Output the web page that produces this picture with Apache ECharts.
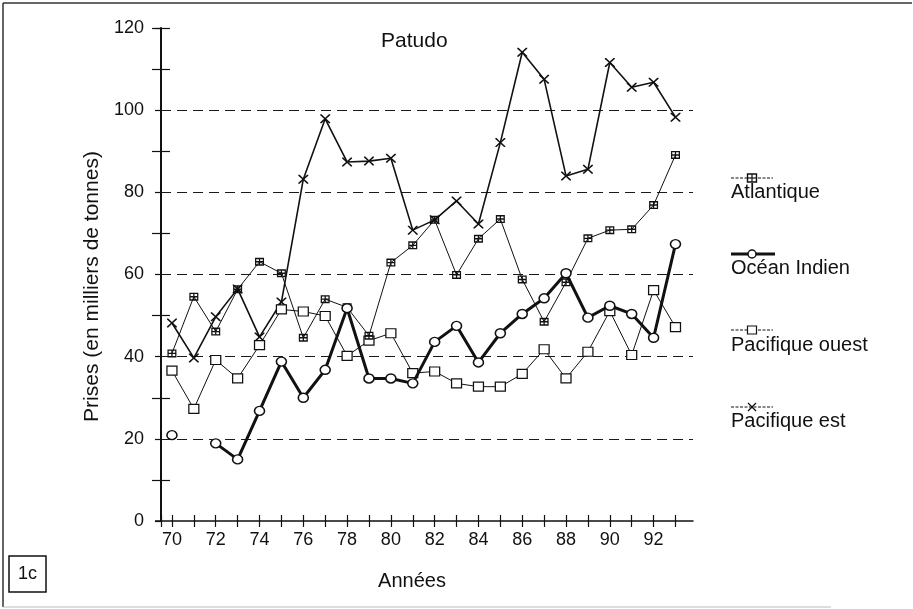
<!DOCTYPE html>
<html>
<head>
<meta charset="utf-8">
<script src="https://cdn.jsdelivr.net/npm/echarts@6/dist/echarts.min.js"></script>
<style>
  html, body { margin: 0; padding: 0; background: #fff; }
  #chart { width: 913px; height: 609px; }
</style>
</head>
<body>
<div id="chart"></div>
<script>
// Bigeye tuna (patudo) catches, thousands of tonnes, 1970-1993
const years = [70,71,72,73,74,75,76,77,78,79,80,81,82,83,84,85,86,87,88,89,90,91,92,93];
const yearLabels = [70,72,74,76,78,80,82,84,86,88,90,92];
const yTickLabels = [0,20,40,60,80,100,120];

const atlantique = [40.8,54.6,46.1,56.4,63.1,60.3,44.6,54.0,52.0,45.1,62.9,67.1,73.3,59.9,68.7,73.5,58.8,48.5,58.1,68.8,70.8,71.0,76.9,89.1];
const oceanIndien = [20.9,null,18.9,15.0,26.8,38.8,30.0,36.8,51.8,34.7,34.7,33.5,43.6,47.5,38.6,45.7,50.4,54.2,60.3,49.5,52.4,50.4,44.6,67.4];
const pacifiqueOuest = [36.6,27.3,39.2,34.7,42.8,51.5,51.0,49.9,40.2,43.9,45.7,36.0,36.4,33.5,32.7,32.7,35.8,41.8,34.7,41.2,51.1,40.4,56.2,47.2];
const pacifiqueEst = [48.2,39.7,49.7,56.5,44.8,53.3,83.2,97.9,87.4,87.6,88.3,70.8,73.3,77.9,72.3,92.1,114.1,107.5,84.0,85.6,111.6,105.6,106.8,98.3];

const seriesNames = ['Atlantique', 'Océan Indien', 'Pacifique ouest', 'Pacifique est'];

// marker shapes
const boxCross = 'path://M0 0H10V8H0Z M1.4 1.4V3.3H4.3V1.4Z M5.7 1.4V3.3H8.6V1.4Z M1.4 4.7V6.6H4.3V4.7Z M5.7 4.7V6.6H8.6V4.7Z';
const xMark = 'path://M0 0L1.3 0L5 3.9L8.7 0L10 0L10 1.1L6.1 5L10 8.9L10 10L8.7 10L5 6.1L1.3 10L0 10L0 8.9L3.9 5L0 1.1Z';

function pairs(vals) {
  return years.map((y, i) => [y, vals[i] == null ? '-' : vals[i]]);
}

const FONT = 'Liberation Sans, Arial, Helvetica, sans-serif';
const INK = '#111';

const chart = echarts.init(document.getElementById('chart'), null, { renderer: 'canvas' });

const xTicks = [69.5].concat(years);
const yOddTicks = [10,30,50,70,90,110,120];

// legend glyph helpers (graphic component)
function boxCrossGlyph(cx, cy) {
  return [
    { type: 'rect', shape: { x: cx - 4.5, y: cy - 4, width: 9, height: 8 }, style: { fill: '#fff', stroke: INK, lineWidth: 1.4 } },
    { type: 'line', shape: { x1: cx - 4.5, y1: cy, x2: cx + 4.5, y2: cy }, style: { stroke: INK, lineWidth: 1.2 } },
    { type: 'line', shape: { x1: cx, y1: cy - 4, x2: cx, y2: cy + 4 }, style: { stroke: INK, lineWidth: 1.2 } }
  ];
}
function xGlyph(cx, cy) {
  return [
    { type: 'line', shape: { x1: cx - 4, y1: cy - 4, x2: cx + 4, y2: cy + 4 }, style: { stroke: INK, lineWidth: 1.3 } },
    { type: 'line', shape: { x1: cx - 4, y1: cy + 4, x2: cx + 4, y2: cy - 4 }, style: { stroke: INK, lineWidth: 1.3 } }
  ];
}
function legendText(i, y) {
  return { type: 'text', x: 731, y: y, style: { text: seriesNames[i], font: '20px ' + FONT, fill: INK, verticalAlign: 'middle' } };
}

const legendY = [178, 254, 330, 407];

const option = {
  backgroundColor: '#fff',
  animation: false,
  title: {
    text: 'Patudo', left: 376, top: 26,
    textStyle: { fontFamily: FONT, fontSize: 21, fontWeight: 'normal', color: INK }
  },
  grid: { left: 161, right: 220, top: 28, bottom: 88, containLabel: false },
  xAxis: [
    {
      type: 'value', min: 69.5, max: 93.8, position: 'bottom',
      axisLine: { onZero: false, lineStyle: { color: INK, width: 1.5 } },
      axisTick: { length: 6, customValues: xTicks, lineStyle: { color: INK, width: 1.2 } },
      axisLabel: { customValues: yearLabels, color: INK, fontFamily: FONT, fontSize: 18, margin: 10 },
      splitLine: { show: false },
      name: 'Années', nameLocation: 'middle', nameGap: 50,
      nameTextStyle: { color: INK, fontFamily: FONT, fontSize: 20, padding: [0, 30, 0, 0] }
    },
    {
      type: 'value', min: 69.5, max: 93.8, position: 'bottom', offset: 0,
      axisLine: { show: false, onZero: false },
      axisTick: { inside: true, length: 6, customValues: xTicks, lineStyle: { color: INK, width: 1.2 } },
      axisLabel: { show: false },
      splitLine: { show: false }
    }
  ],
  yAxis: [
    {
      type: 'value', min: 0, max: 120, interval: 20, position: 'left',
      axisLine: { show: true, onZero: false, lineStyle: { color: INK, width: 2 } },
      axisTick: { length: 6, lineStyle: { color: INK, width: 1.2 } },
      axisLabel: { customValues: yTickLabels, color: INK, fontFamily: FONT, fontSize: 18, margin: 17 },
      splitLine: {
        show: true,
        lineStyle: {
          color: ['rgba(0,0,0,0)', '#1a1a1a', '#1a1a1a', '#1a1a1a', '#1a1a1a', '#1a1a1a', 'rgba(0,0,0,0)'],
          type: [10, 6], width: 1.1
        }
      },
      name: 'Prises (en milliers de tonnes)', nameLocation: 'middle', nameGap: 54, nameRotate: 90,
      nameTextStyle: { color: INK, fontFamily: FONT, fontSize: 21, padding: [0, 24, 0, 0] }
    },
    {
      type: 'value', min: 0, max: 120, interval: 20, position: 'left', offset: 0,
      axisLine: { show: false, onZero: false },
      axisTick: { length: 9, customValues: yOddTicks, lineStyle: { color: INK, width: 1.2 } },
      axisLabel: { show: false },
      splitLine: { show: false }
    },
    {
      type: 'value', min: 0, max: 120, interval: 20, position: 'left', offset: 0,
      axisLine: { show: false, onZero: false },
      axisTick: { inside: true, length: 9, customValues: yOddTicks, lineStyle: { color: INK, width: 1.2 } },
      axisLabel: { show: false },
      splitLine: { show: false }
    }
  ],
  series: [
    {
      name: seriesNames[0], type: 'line', data: pairs(atlantique),
      symbol: boxCross, symbolSize: [9, 8], showAllSymbol: true,
      lineStyle: { color: INK, width: 1 }, itemStyle: { color: INK }, z: 3
    },
    {
      name: seriesNames[1], type: 'line', data: pairs(oceanIndien), connectNulls: false,
      symbol: 'circle', symbolSize: [10, 9], showAllSymbol: true,
      lineStyle: { color: INK, width: 3 }, itemStyle: { color: '#fff', borderColor: INK, borderWidth: 1.5 }, z: 4
    },
    {
      name: seriesNames[2], type: 'line', data: pairs(pacifiqueOuest),
      symbol: 'rect', symbolSize: [10, 9], showAllSymbol: true,
      lineStyle: { color: INK, width: 1 }, itemStyle: { color: '#fff', borderColor: INK, borderWidth: 1.2 }, z: 2
    },
    {
      name: seriesNames[3], type: 'line', data: pairs(pacifiqueEst),
      symbol: xMark, symbolSize: [10, 9], showAllSymbol: true,
      lineStyle: { color: INK, width: 1.6 }, itemStyle: { color: INK }, z: 1
    }
  ],
  graphic: [].concat(
    [
      // page frame
      { type: 'line', shape: { x1: 3, y1: 3, x2: 912, y2: 3 }, style: { stroke: '#333', lineWidth: 1.5 } },
      { type: 'line', shape: { x1: 3, y1: 3, x2: 3, y2: 607 }, style: { stroke: '#333', lineWidth: 1.5 } },
      { type: 'line', shape: { x1: 3, y1: 607, x2: 831, y2: 607 }, style: { stroke: '#bbb', lineWidth: 1 } },
      // x axis line stub left of the y axis
      { type: 'line', shape: { x1: 155, y1: 521, x2: 161, y2: 521 }, style: { stroke: INK, lineWidth: 1.5 } },
      // panel tag
      { type: 'rect', shape: { x: 9, y: 556, width: 37, height: 36 }, style: { fill: '#fff', stroke: INK, lineWidth: 1.5 } },
      { type: 'text', x: 27.5, y: 574, style: { text: '1c', font: '18px ' + FONT, fill: INK, align: 'center', verticalAlign: 'middle' } },
      // legend lines
      { type: 'line', shape: { x1: 731, y1: legendY[0], x2: 773, y2: legendY[0] }, style: { stroke: INK, lineWidth: 1, lineDash: [3, 1.5] } },
      { type: 'line', shape: { x1: 731, y1: legendY[1], x2: 775, y2: legendY[1] }, style: { stroke: INK, lineWidth: 3 } },
      { type: 'circle', shape: { cx: 752, cy: legendY[1], r: 4 }, style: { fill: '#fff', stroke: INK, lineWidth: 1.5 } },
      { type: 'line', shape: { x1: 731, y1: legendY[2], x2: 773, y2: legendY[2] }, style: { stroke: INK, lineWidth: 1, lineDash: [3, 1.5] } },
      { type: 'rect', shape: { x: 747.5, y: legendY[2] - 4, width: 9, height: 8 }, style: { fill: '#fff', stroke: INK, lineWidth: 1.2 } },
      { type: 'line', shape: { x1: 731, y1: legendY[3], x2: 773, y2: legendY[3] }, style: { stroke: INK, lineWidth: 1, lineDash: [3, 1.5] } },
      legendText(0, legendY[0] + 14),
      legendText(1, legendY[1] + 14),
      legendText(2, legendY[2] + 15),
      legendText(3, legendY[3] + 14)
    ],
    boxCrossGlyph(752, legendY[0]),
    xGlyph(752, legendY[3])
  )
};

chart.setOption(option);
</script>
</body>
</html>
